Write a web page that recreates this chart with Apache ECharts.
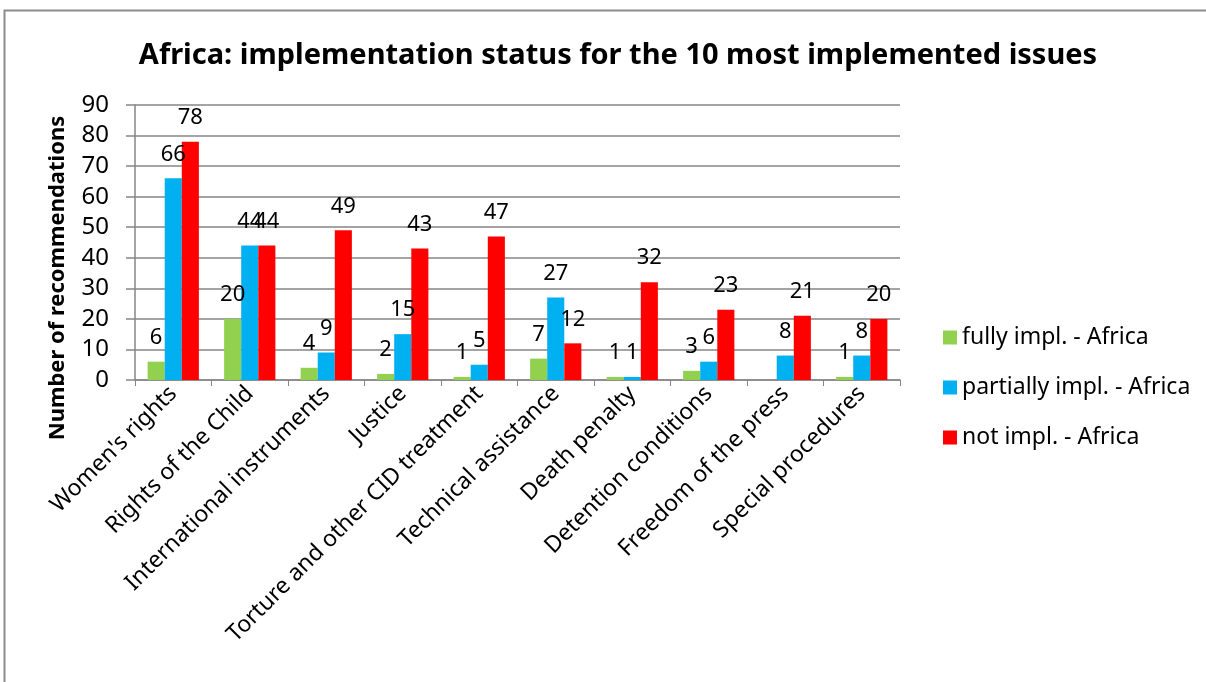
<!DOCTYPE html>
<html><head><meta charset="utf-8">
<script src="https://cdn.jsdelivr.net/npm/echarts@6/dist/echarts.min.js"></script>
<style>html,body{margin:0;padding:0;background:#fff}#c{width:1206px;height:682px}</style>
</head><body><div id="c"></div>
<script>
var categories = ["Women's rights","Rights of the Child","International instruments","Justice","Torture and other CID treatment","Technical assistance","Death penalty","Detention conditions","Freedom of the press","Special procedures"];
var fullyImpl = [6,20,4,2,1,7,1,3,null,1];
var partiallyImpl = [66,44,9,15,5,27,1,6,8,8];
var notImpl = [78,44,49,43,47,12,32,23,21,20];
var yTicks = [0,10,20,30,40,50,60,70,80,90];
var yAxisTitle = 'Number of recommendations';

var FONT = "'Noto Sans',sans-serif";
var chart = echarts.init(document.getElementById('c'));
var lbl = {show:true, position:'top', color:'#000', fontSize:22, fontFamily:FONT, distance:13};
chart.setOption({
  animation:false,
  title:{text:'Africa: implementation status for the 10 most implemented issues', left:613, top:36, textAlign:'center',
    textStyle:{fontSize:29, fontWeight:'bold', fontFamily:FONT, color:'#000'}},
  graphic:[
    {type:'rect', shape:{x:4.5,y:10.5,width:1210,height:700}, style:{fill:'none', stroke:'#8c8c8c', lineWidth:2}},
    {type:'text', x:58, y:278, rotation:Math.PI/2,
      style:{text:yAxisTitle, fontSize:22, fontWeight:'bold', fontFamily:FONT, fill:'#000', textAlign:'center', textVerticalAlign:'middle'}}
  ],
  legend:{orient:'vertical', left:938, top:321, itemWidth:14, itemHeight:14, itemGap:27, icon:'rect',
    textStyle:{fontSize:23, fontFamily:FONT, color:'#000'}},
  grid:{left:135, right:306, top:105, bottom:302},
  xAxis:{type:'category', data:categories,
    axisLine:{lineStyle:{color:'#868686', width:1.5}},
    axisTick:{show:true, alignWithLabel:false, length:6, lineStyle:{color:'#868686'}},
    axisLabel:{rotate:45, interval:0, fontSize:23, fontFamily:FONT, color:'#000', margin:10}},
  yAxis:{type:'value', min:0, max:90, interval:10,
    axisLine:{show:true, lineStyle:{color:'#868686', width:1.5}},
    axisTick:{show:true, length:9, lineStyle:{color:'#868686', width:1.5}},
    splitLine:{lineStyle:{color:'#868686', width:1.5}},
    axisLabel:{fontSize:24, fontFamily:FONT, color:'#000', margin:26,
      formatter:function(v){return yTicks.indexOf(v)>=0?String(v):'';}}},
  series:[
    {name:'fully impl. - Africa', type:'bar', data:fullyImpl, itemStyle:{color:'#92d050'}, barGap:'0%', barCategoryGap:'33%', label:lbl},
    {name:'partially impl. - Africa', type:'bar', data:partiallyImpl, itemStyle:{color:'#00b0f0'}, label:lbl},
    {name:'not impl. - Africa', type:'bar', data:notImpl, itemStyle:{color:'#ff0000'}, label:lbl}
  ]
});
</script></body></html>
